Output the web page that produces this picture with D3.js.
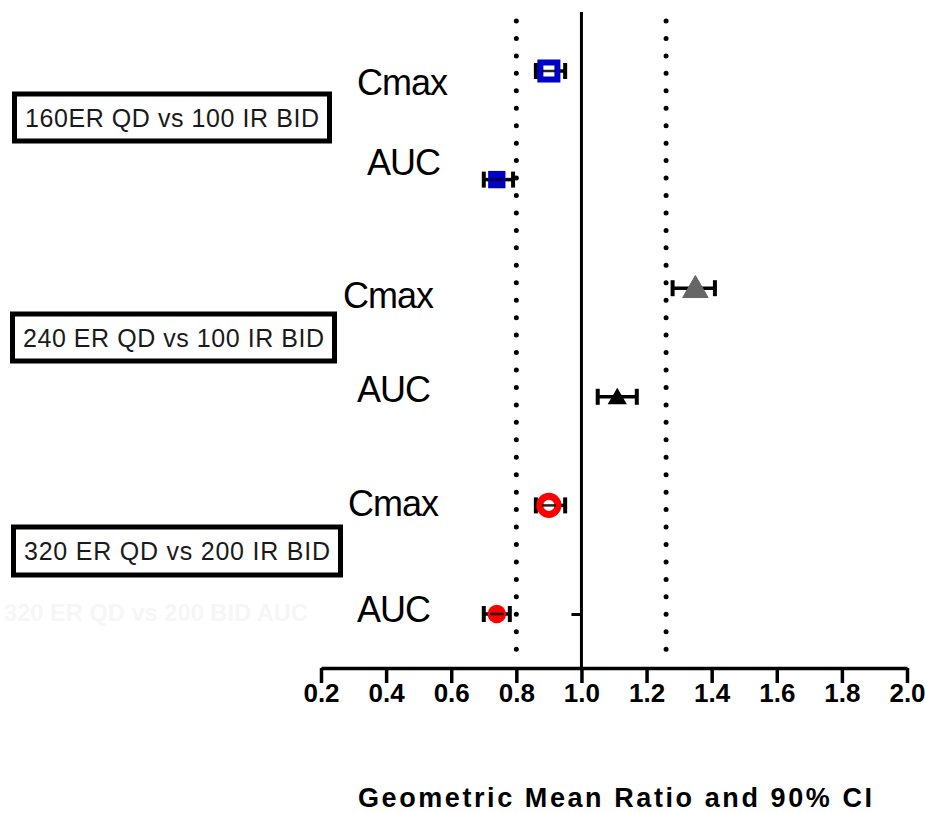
<!DOCTYPE html>
<html>
<head>
<meta charset="utf-8">
<script src="https://cdn.jsdelivr.net/npm/d3@7"></script>
<style>
  body { margin: 0; background: #fff; }
  svg { display: block; }
</style>
</head>
<body>
<script>
// data
const rows = ["160 Cmax", "160 AUC", "240 Cmax", "240 AUC", "320 Cmax", "320 AUC"];
const rowLabels = ["Cmax", "AUC", "Cmax", "AUC", "Cmax", "AUC"];
const gmr = [0.90, 0.74, 1.35, 1.11, 0.90, 0.74];
const ciLow = [0.86, 0.70, 1.28, 1.05, 0.86, 0.70];
const ciHigh = [0.95, 0.79, 1.41, 1.17, 0.95, 0.78];
const groups = ["160ER QD vs 100 IR BID", "240 ER QD vs 100 IR BID", "320 ER QD vs 200 IR BID"];
const xTicks = [0.2, 0.4, 0.6, 0.8, 1.0, 1.2, 1.4, 1.6, 1.8, 2.0];
const refLines = [0.8, 1.26];

// marker styles per row
const markerStyle = [
  { shape: d3.symbolSquare, size: 290, fill: "#fff", stroke: "#0000c8", sw: 6 },
  { shape: d3.symbolSquare, size: 300, fill: "#0000c8", stroke: "#0000c8", sw: 0 },
  { shape: d3.symbolTriangle, size: 280, fill: "#666", stroke: "#666", sw: 1 },
  { shape: d3.symbolTriangle, size: 160, fill: "#000", stroke: "#000", sw: 0 },
  { shape: d3.symbolCircle, size: 260, fill: "#fff", stroke: "#ff0000", sw: 7 },
  { shape: d3.symbolCircle, size: 270, fill: "#ff0000", stroke: "#ff0000", sw: 0 }
];
// label nudges (x end, dy)
const labelPos = [[447, 24], [440, -5], [433, 20], [430, 5], [438, 11], [430, 8]];

const width = 925, height = 813;
const svg = d3.select("body").append("svg")
    .attr("width", width)
    .attr("height", height);

const x = d3.scaleLinear().domain([0.2, 2.0]).range([321, 907]);
const y = d3.scalePoint().domain(rows).range([71, 614]);
const axisY = 668;

// faint leftover text
svg.append("text")
    .attr("x", 308).attr("y", 621)
    .attr("text-anchor", "end")
    .attr("textLength", 304)
    .attr("lengthAdjust", "spacingAndGlyphs")
    .style("font-family", "Liberation Sans, Arial, sans-serif")
    .style("font-weight", "bold")
    .style("font-size", "24px")
    .style("fill", "#f6f6f6")
    .text("320 ER QD vs 200 BID AUC");

// dotted reference lines
svg.selectAll(".ref").data(refLines).enter().append("line")
    .attr("x1", d => x(d)).attr("x2", d => x(d))
    .attr("y1", 21).attr("y2", 662)
    .attr("stroke", "#000")
    .attr("stroke-width", 5)
    .attr("stroke-linecap", "round")
    .attr("stroke-dasharray", "0,17.45");

// y axis at 1.0 (single tick at the bottom row)
const yAxis = svg.append("g")
    .attr("transform", `translate(${x(1.0)},0)`)
    .call(d3.axisLeft(y).tickValues([rows[5]]).tickSize(10).tickFormat(""));
yAxis.select(".domain").attr("d", `M0,12V${axisY}`).attr("stroke-width", 3);
yAxis.selectAll(".tick line").attr("stroke-width", 3);

// x axis
const xAxis = svg.append("g")
    .attr("transform", `translate(0,${axisY})`)
    .call(d3.axisBottom(x).tickValues(xTicks).tickSize(15).tickSizeOuter(0).tickFormat(d3.format(".1f")));
xAxis.select(".domain").attr("stroke-width", 3.5);
xAxis.selectAll(".tick line").attr("stroke-width", 3.5);
xAxis.selectAll(".tick text")
    .attr("y", 16)
    .style("font-family", "Liberation Sans, Arial, sans-serif")
    .style("font-weight", "bold")
    .style("font-size", "26px")
    .style("fill", "#000");

// error bars
const cap = 8;
const bars = svg.selectAll(".ci").data(rows).enter().append("g");
bars.append("line")
    .attr("x1", (d, i) => x(ciLow[i])).attr("x2", (d, i) => x(ciHigh[i]))
    .attr("y1", d => y(d)).attr("y2", d => y(d))
    .attr("stroke", "#000").attr("stroke-width", 3.5);
bars.append("line")
    .attr("x1", (d, i) => x(ciLow[i])).attr("x2", (d, i) => x(ciLow[i]))
    .attr("y1", d => y(d) - cap).attr("y2", d => y(d) + cap)
    .attr("stroke", "#000").attr("stroke-width", 4);
bars.append("line")
    .attr("x1", (d, i) => x(ciHigh[i])).attr("x2", (d, i) => x(ciHigh[i]))
    .attr("y1", d => y(d) - cap).attr("y2", d => y(d) + cap)
    .attr("stroke", "#000").attr("stroke-width", 4);

// markers
svg.selectAll(".pt").data(rows).enter().append("path")
    .attr("transform", (d, i) => `translate(${x(gmr[i])},${y(d) + (markerStyle[i].shape === d3.symbolTriangle ? 2 : 0)})`)
    .attr("d", (d, i) => d3.symbol().type(markerStyle[i].shape).size(markerStyle[i].size)())
    .attr("fill", (d, i) => markerStyle[i].fill)
    .attr("stroke", (d, i) => markerStyle[i].stroke)
    .attr("stroke-width", (d, i) => markerStyle[i].sw);

// error line showing through the markers
svg.selectAll(".thru").data(rows).enter().append("line")
    .attr("x1", (d, i) => x(gmr[i]) - 7)
    .attr("x2", (d, i) => x(gmr[i]) + 7)
    .attr("y1", d => y(d)).attr("y2", d => y(d))
    .attr("stroke", "#000").attr("stroke-width", 2.5)
    .attr("opacity", (d, i) => i === 2 ? 0 : 0.85);

// row labels
svg.selectAll(".lbl").data(rows).enter().append("text")
    .attr("x", (d, i) => labelPos[i][0])
    .attr("y", (d, i) => y(d) + labelPos[i][1])
    .attr("text-anchor", "end")
    .style("font-family", "Liberation Sans, Arial, sans-serif")
    .style("font-size", "36px")
    .style("letter-spacing", "-1px")
    .style("fill", "#000")
    .text((d, i) => rowLabels[i]);

// group boxes
const boxes = [[12, 94, 320, 49], [10, 314, 327, 49], [11, 527, 332, 50]];
groups.forEach((g, i) => {
  const b = boxes[i];
  svg.append("rect")
      .attr("x", b[0] + 2.5).attr("y", b[1])
      .attr("width", b[2] - 5).attr("height", b[3] - 2)
      .attr("fill", "#fff").attr("stroke", "#000").attr("stroke-width", 5);
  svg.append("text")
      .attr("x", b[0] + b[2] / 2).attr("y", b[1] + b[3] / 2 + 8)
      .attr("text-anchor", "middle")
      .attr("textLength", b[2] - 26)
      .attr("lengthAdjust", "spacing")
      .style("font-family", "Liberation Sans, Arial, sans-serif")
      .style("font-size", "25px")
      .style("fill", "#1a1a1a")
      .text(g);
});

// axis title
svg.append("text")
    .attr("x", 615).attr("y", 807)
    .attr("text-anchor", "middle")
    .attr("textLength", 514)
    .attr("lengthAdjust", "spacing")
    .style("font-family", "Liberation Sans, Arial, sans-serif")
    .style("font-weight", "bold")
    .style("font-size", "27px")
    .style("fill", "#000")
    .text("Geometric Mean Ratio and 90% CI");
</script>
</body>
</html>
